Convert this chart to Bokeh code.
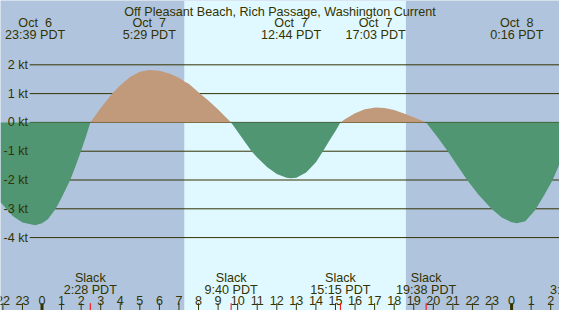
from bokeh.plotting import figure
from bokeh.models import Range1d
from bokeh.core.properties import value
from bokeh.embed import file_html
from bokeh.resources import INLINE
import numpy as np

# ---- data (hours relative to Oct 7 00:00 PDT, current in knots) ----
hours = [-2.12, -1.5, -1.0, -0.35, 0.0, 0.3, 0.7, 1.0, 1.44, 1.7, 1.99, 2.25, 2.467,
         3.0, 3.59, 4.0, 4.5, 5.0, 5.48, 6.0, 6.5, 7.0, 7.32, 7.5, 8.07, 8.5, 9.0, 9.667,
         10.0, 10.71, 11.0, 11.5, 12.0, 12.5, 12.73, 13.0, 13.5, 14.0, 14.36, 14.7, 15.0, 15.25,
         15.5, 16.0, 16.5, 17.05, 17.5, 18.0, 18.6, 19.0, 19.633,
         20.2, 20.74, 21.2, 21.73, 22.3, 22.97, 23.5, 24.0, 24.27, 24.7, 25.2, 25.65, 26.1, 26.45]
knots = [-2.77, -3.25, -3.48, -3.57, -3.50, -3.36, -3.0, -2.62, -2.0, -1.55, -1.0, -0.48, 0.0,
         0.50, 1.0, 1.29, 1.58, 1.76, 1.82, 1.79, 1.70, 1.55, 1.40, 1.34, 1.0, 0.76, 0.45, 0.0,
         -0.32, -1.0, -1.22, -1.55, -1.79, -1.92, -1.94, -1.92, -1.74, -1.38, -1.0, -0.62, -0.30, 0.0,
         0.12, 0.32, 0.46, 0.52, 0.50, 0.43, 0.28, 0.18, 0.0,
         -0.5, -1.0, -1.47, -2.0, -2.5, -3.0, -3.3, -3.47, -3.5, -3.43, -3.05, -2.55, -2.0, -1.45]

event_hours = [-0.35, 5.483, 12.733, 17.05, 24.267]
event_dates = ["Oct \u00a06", "Oct \u00a07", "Oct \u00a07", "Oct \u00a07", "Oct \u00a08"]
event_clock = ["23:39 PDT", "5:29 PDT", "12:44 PDT", "17:03 PDT", "0:16 PDT"]

slack_hours = [2.467, 9.667, 15.25, 19.633, 27.33]
slack_clock = ["2:28 PDT", "9:40 PDT", "15:15 PDT", "19:38 PDT", "3:20 PDT"]

tick_hours = list(range(-2, 28))
tick_labels = [str(h % 24) for h in tick_hours]

kt_levels = [2, 1, 0, -1, -2, -3, -4]
kt_labels = [f"{k} kt" for k in kt_levels]

sunrise, sunset = 7.27, 18.6
title = "Off Pleasant Beach, Rich Passage, Washington Current"

# ---- style ----
NIGHT = "#B0C4DE"
DAY = "#E0F8FF"
FLOOD = "#C09A7A"
EBB = "#509673"
INK = "#333300"
FONT = value("Liberation Sans")
FS = "12.6px"

X0, X1 = -2.122, 26.45
Y0, Y1 = -6.532, 4.234

p = figure(width=559, height=310, x_range=Range1d(X0, X1), y_range=Range1d(Y0, Y1),
           toolbar_location=None, output_backend="svg", min_border=0,
           x_axis_location=None, y_axis_location=None)
p.grid.visible = False
p.outline_line_color = None
p.background_fill_color = NIGHT
p.border_fill_color = NIGHT

# daylight band
p.quad(left=[sunrise], right=[sunset], bottom=[Y0], top=[Y1], fill_color=DAY, line_color=None)

# grid lines
p.segment(x0=[-0.631] * len(kt_levels), x1=[X1] * len(kt_levels), y0=kt_levels, y1=kt_levels,
          line_color=INK, line_width=1)

# current fills
t = np.array(hours)
v = np.array(knots)
p.varea(x=t, y1=np.zeros_like(v), y2=np.maximum(v, 0), fill_color=FLOOD)
p.varea(x=t, y1=np.minimum(v, 0), y2=np.zeros_like(v), fill_color=EBB)

# y labels
p.text(x=[-0.716] * len(kt_levels), y=kt_levels, text=kt_labels, text_font=FONT,
       text_font_size=FS, text_align="right", text_baseline="middle", text_color=INK)

# title
p.text(x=[(X0 + X1) / 2], y=[3.847], text=[title], text_font=FONT, text_font_size=FS,
       text_align="center", text_baseline="alphabetic", text_color=INK)

# events
p.text(x=event_hours, y=[3.441] * len(event_hours), text=event_dates, text_font=FONT,
       text_font_size=FS, text_align="center", text_baseline="alphabetic", text_color=INK)
p.text(x=event_hours, y=[3.045] * len(event_hours), text=event_clock, text_font=FONT,
       text_font_size=FS, text_align="center", text_baseline="alphabetic", text_color=INK)

# slack labels
p.text(x=slack_hours, y=[-5.40] * len(slack_hours), text=["Slack"] * len(slack_hours),
       text_font=FONT, text_font_size=FS, text_align="center", text_baseline="alphabetic",
       text_color=INK)
p.text(x=slack_hours, y=[-5.806] * len(slack_hours), text=slack_clock, text_font=FONT,
       text_font_size=FS, text_align="center", text_baseline="alphabetic", text_color=INK)

# hour labels and ticks
p.text(x=tick_hours, y=[-6.202] * len(tick_hours), text=tick_labels, text_font=FONT,
       text_font_size=FS, text_align="center", text_baseline="alphabetic", text_color=INK)
thin = [h for h in tick_hours if h % 24 != 0]
thick = [h for h in tick_hours if h % 24 == 0]
p.segment(x0=thin, x1=thin, y0=[-6.278] * len(thin), y1=[Y0] * len(thin),
          line_color=INK, line_width=1)
p.segment(x0=thick, x1=thick, y0=[-6.278] * len(thick), y1=[Y0] * len(thick),
          line_color=INK, line_width=3)
p.segment(x0=slack_hours, x1=slack_hours, y0=[-6.278] * len(slack_hours),
          y1=[Y0] * len(slack_hours), line_color="#FF0000", line_width=1)

open("out.html", "w").write(file_html(p, INLINE))
